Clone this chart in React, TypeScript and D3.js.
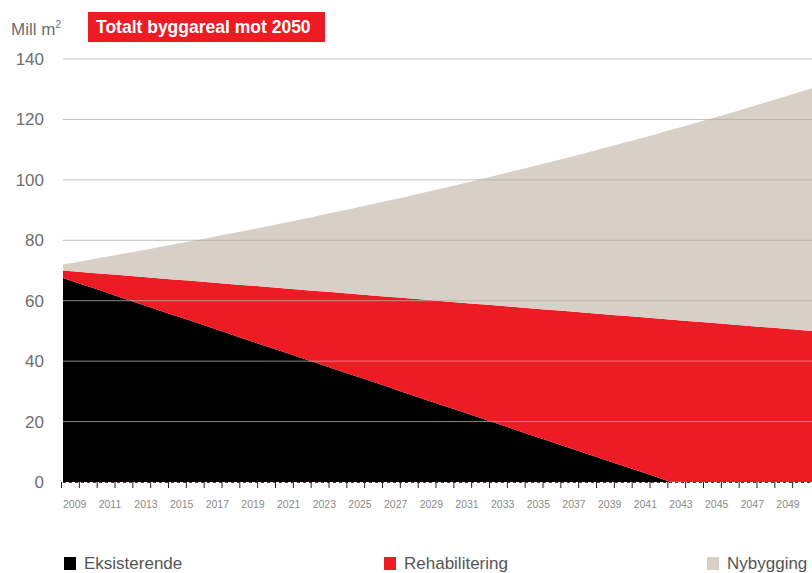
import React from "react";
import * as d3 from "d3";

const years = [2009,2010,2011,2012,2013,2014,2015,2016,2017,2018,2019,2020,2021,2022,2023,2024,2025,2026,2027,2028,2029,2030,2031,2032,2033,2034,2035,2036,2037,2038,2039,2040,2041,2042,2043,2044,2045,2046,2047,2048,2049,2050,2051];
const eksisterende = [67.5,65.5,63.6,61.6,59.6,57.6,55.6,53.7,51.7,49.7,47.7,45.7,43.8,41.8,39.8,37.8,35.8,33.9,31.9,29.9,27.9,25.9,24.0,22.0,20.0,18.0,16.0,14.1,12.1,10.1,8.1,6.1,4.2,2.2,0.2,0,0,0,0,0,0,0,0];
const rehabilitering = [2.5,4.0,5.4,7.0,8.5,10.0,11.5,13.0,14.5,16.0,17.5,19.1,20.5,22.0,23.5,25.1,26.6,28.0,29.5,31.1,32.6,34.1,35.5,37.0,38.6,40.1,41.6,43.0,44.6,46.1,47.6,49.1,50.6,52.1,53.6,53.3,52.9,52.4,51.9,51.4,51.0,50.5,50.0];
const nybygging = [2.0,3.5,5.1,6.5,8.1,9.7,11.3,12.8,14.4,16.1,17.7,19.3,21.0,22.7,24.4,26.1,27.8,29.6,31.4,33.1,35.0,36.8,38.7,40.6,42.4,44.4,46.3,48.3,50.2,52.2,54.3,56.3,58.3,60.4,62.6,64.7,66.8,69.0,71.2,73.5,75.7,78.0,80.3];
const yTicks = [0,20,40,60,80,100,120,140];
const xLabelYears = [2009,2011,2013,2015,2017,2019,2021,2023,2025,2027,2029,2031,2033,2035,2037,2039,2041,2043,2045,2047,2049];
const seriesNames = ["Eksisterende","Rehabilitering","Nybygging"];
const seriesKeys = ["eks","rehab","ny"];
const colors = ["#000000","#ed1c24","#d8cfc7"];

export default function App() {
  const W = 812, H = 573;
  const x = d3.scaleLinear().domain([2009, 2051]).range([63, 812]);
  const y = d3.scaleLinear().domain([0, 140]).range([482, 59]);
  const rows = years.map((yr, i) => ({ year: yr, eks: eksisterende[i], rehab: rehabilitering[i], ny: nybygging[i] }));
  const stacked = d3.stack<any>().keys(seriesKeys)(rows);
  const area = d3.area<any>().x(d => x(d.data.year)).y0(d => y(d[0])).y1(d => y(d[1]));
  const font = "'Liberation Sans', Arial, Helvetica, sans-serif";
  const tickYears = d3.range(2009, 2051);
  const legendX = [64, 384, 707];
  return (
    <svg width={W} height={H} style={{ position: "absolute", left: 0, top: 0, background: "#fff" }} fontFamily={font}>
      <defs>
        <clipPath id="plot"><rect x={63} y={0} width={W - 63} height={483} /></clipPath>
      </defs>
      <g clipPath="url(#plot)">
        {stacked.map((s, i) => (
          <path key={i} d={area(s) || ""} fill={colors[i]} />
        ))}
      </g>
      {yTicks.filter(t => t > 0).map(t => (
        <line key={t} x1={63} x2={W} y1={y(t)} y2={y(t)} stroke="#b6aea6" strokeOpacity={0.78} strokeWidth={1} />
      ))}
      <line x1={63} x2={W} y1={y(0) + 0.5} y2={y(0) + 0.5} stroke="#6b2a2a" strokeWidth={1} strokeDasharray="3,3" />
      {tickYears.map(t => (
        <line key={t} x1={x(t) - 1.5} x2={x(t) - 1.5} y1={y(0)} y2={y(0) + 6} stroke="#222" strokeWidth={1} />
      ))}
      {yTicks.map(t => (
        <text key={t} x={44} y={y(t) + 6} textAnchor="end" fontSize={17} fill="#6e6e6e">{t}</text>
      ))}
      {xLabelYears.map(t => (
        <text key={t} x={x(t)} y={508} fontSize={10.5} fill="#8a8a8a">{t}</text>
      ))}
      <text x={11} y={35} fontSize={17} fill="#6e6e6e">Mill m<tspan fontSize={10} dy={-7}>2</tspan></text>
      <rect x={88} y={12} width={237} height={30} fill="#ed1c24" />
      <text x={96} y={33} fontSize={17.5} fontWeight="bold" fill="#fff">Totalt byggareal mot 2050</text>
      {seriesNames.map((n, i) => (
        <g key={n}>
          <rect x={legendX[i]} y={557} width={12} height={13} fill={colors[i]} />
          <text x={legendX[i] + 20} y={569} fontSize={17} fill="#555">{n}</text>
        </g>
      ))}
    </svg>
  );
}
